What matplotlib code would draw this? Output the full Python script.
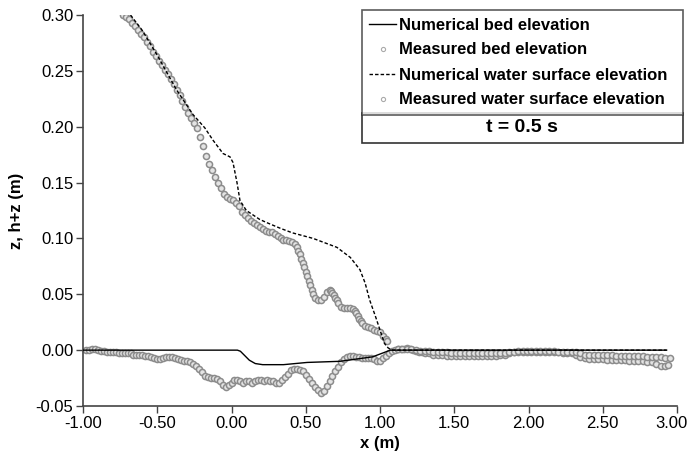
import matplotlib
matplotlib.use("Agg")
import matplotlib.pyplot as plt
from matplotlib.patches import Rectangle
from matplotlib.lines import Line2D

# measured water surface elevation (h+z)
ws_meas_x = [-0.73, -0.71, -0.69, -0.67, -0.65, -0.63, -0.61, -0.59, -0.57, -0.55,
             -0.53, -0.51, -0.49, -0.47, -0.45, -0.43, -0.41, -0.39, -0.37, -0.35,
             -0.33, -0.31, -0.29, -0.27, -0.25, -0.23, -0.21, -0.19, -0.17, -0.15,
             -0.13, -0.11, -0.09, -0.07, -0.05, -0.03, -0.01, 0.01, 0.03, 0.05,
             0.07, 0.09, 0.11, 0.13, 0.15, 0.17, 0.19, 0.21, 0.23, 0.25,
             0.27, 0.29, 0.31, 0.33, 0.35, 0.37, 0.39, 0.41, 0.43, 0.44,
             0.45, 0.46, 0.47, 0.48, 0.49, 0.50, 0.51, 0.52, 0.53, 0.54,
             0.55, 0.56, 0.58, 0.60, 0.62, 0.64, 0.66, 0.67, 0.68, 0.69,
             0.70, 0.71, 0.72, 0.74, 0.76, 0.78, 0.80, 0.82, 0.83, 0.84,
             0.85, 0.86, 0.87, 0.88, 0.90, 0.92, 0.94, 0.96, 0.98, 1.00,
             1.02, 1.04, 1.05,
             1.12, 1.15, 1.18, 1.21, 1.24, 1.27, 1.30, 1.33, 1.36, 1.39,
             1.42, 1.45, 1.48, 1.51, 1.54, 1.57, 1.60, 1.63, 1.66, 1.69,
             1.72, 1.75, 1.78, 1.81, 1.84, 1.87, 1.90, 1.93, 1.96, 1.99,
             2.02, 2.05, 2.08, 2.11, 2.14, 2.17, 2.20, 2.23, 2.26, 2.29,
             2.32, 2.35, 2.38, 2.41, 2.44, 2.47, 2.50, 2.53, 2.56, 2.59,
             2.62, 2.65, 2.68, 2.71, 2.74, 2.77, 2.80, 2.83, 2.86, 2.89,
             2.92, 2.95]
ws_meas_y = [0.300, 0.298, 0.296, 0.293, 0.290, 0.287, 0.283, 0.280, 0.276, 0.272,
             0.267, 0.263, 0.259, 0.255, 0.251, 0.247, 0.243, 0.238, 0.233, 0.228,
             0.223, 0.218, 0.212, 0.208, 0.203, 0.199, 0.191, 0.183, 0.174, 0.167,
             0.161, 0.155, 0.150, 0.145, 0.140, 0.137, 0.135, 0.134, 0.132, 0.129,
             0.124, 0.121, 0.118, 0.116, 0.114, 0.112, 0.110, 0.108, 0.107, 0.106,
             0.106, 0.104, 0.102, 0.100, 0.099, 0.099, 0.098, 0.097, 0.095, 0.092,
             0.089, 0.086, 0.082, 0.078, 0.074, 0.070, 0.066, 0.062, 0.058, 0.054,
             0.050, 0.047, 0.045, 0.045, 0.048, 0.052, 0.054, 0.053, 0.051, 0.049,
             0.047, 0.045, 0.042, 0.039, 0.038, 0.038, 0.038, 0.037, 0.035, 0.033,
             0.031, 0.028, 0.026, 0.024, 0.022, 0.021, 0.020, 0.018, 0.017, 0.016,
             0.013, 0.010, 0.008,
             0.001, 0.001, 0.001, 0.001, 0.000, -0.001, -0.001, -0.001, -0.002, -0.002,
             -0.002, -0.002, -0.003, -0.003, -0.003, -0.003, -0.003, -0.003, -0.003, -0.003,
             -0.003, -0.003, -0.003, -0.003, -0.003, -0.002, -0.002, -0.001, -0.001, -0.001,
             -0.001, -0.001, -0.001, -0.001, -0.001, -0.001, -0.002, -0.002, -0.002, -0.002,
             -0.002, -0.003, -0.004, -0.004, -0.004, -0.004, -0.004, -0.004, -0.004, -0.005,
             -0.005, -0.005, -0.005, -0.005, -0.005, -0.005, -0.006, -0.006, -0.006, -0.006,
             -0.007, -0.007]

# measured bed elevation (z)
bed_meas_x = [-0.98, -0.96, -0.94, -0.92, -0.90, -0.88, -0.86, -0.84, -0.82, -0.80,
              -0.78, -0.76, -0.74, -0.72, -0.70, -0.68, -0.66, -0.64, -0.62, -0.60,
              -0.58, -0.56, -0.54, -0.52, -0.50, -0.48, -0.46, -0.44, -0.42, -0.40,
              -0.38, -0.36, -0.34, -0.32, -0.30, -0.28, -0.26, -0.24, -0.22, -0.20,
              -0.18, -0.16, -0.14, -0.12, -0.10, -0.08, -0.06, -0.04, -0.02, 0.00,
              0.02, 0.04, 0.06, 0.08, 0.10, 0.12, 0.14, 0.16, 0.18, 0.20,
              0.22, 0.24, 0.26, 0.28, 0.30, 0.32, 0.34, 0.36, 0.38, 0.40,
              0.42, 0.44, 0.46, 0.48, 0.50, 0.52, 0.54, 0.56, 0.58, 0.60,
              0.62, 0.64, 0.66, 0.68, 0.70, 0.72, 0.74, 0.76, 0.78, 0.80,
              0.82, 0.84, 0.86, 0.88, 0.90, 0.92, 0.94, 0.96, 0.98, 1.00,
              1.02, 1.04, 1.06, 1.08, 1.10, 1.12, 1.14, 1.16, 1.18, 1.20,
              1.22, 1.24, 1.26, 1.28, 1.30, 1.33, 1.36, 1.39, 1.42, 1.45,
              1.48, 1.51, 1.54, 1.57, 1.60, 1.63, 1.66, 1.69, 1.72, 1.75,
              1.78, 1.81, 1.84, 1.87, 1.90, 1.93, 1.96, 1.99, 2.02, 2.05,
              2.08, 2.11, 2.14, 2.17, 2.20, 2.23, 2.26, 2.29, 2.32, 2.35,
              2.38, 2.41, 2.44, 2.47, 2.50, 2.53, 2.56, 2.59, 2.62, 2.65,
              2.68, 2.71, 2.74, 2.77, 2.80, 2.83, 2.86, 2.89, 2.92, 2.94]
bed_meas_y = [0.000, 0.000, 0.001, 0.001, 0.000, -0.001, -0.001, -0.002, -0.002, -0.002,
              -0.002, -0.003, -0.003, -0.003, -0.003, -0.003, -0.004, -0.004, -0.004, -0.004,
              -0.005, -0.005, -0.006, -0.007, -0.008, -0.008, -0.007, -0.006, -0.006, -0.006,
              -0.007, -0.008, -0.009, -0.010, -0.010, -0.011, -0.012, -0.014, -0.017, -0.020,
              -0.023, -0.024, -0.025, -0.025, -0.026, -0.028, -0.031, -0.033, -0.031, -0.029,
              -0.027, -0.027, -0.028, -0.029, -0.028, -0.028, -0.029, -0.028, -0.027, -0.027,
              -0.028, -0.027, -0.028, -0.028, -0.029, -0.029, -0.027, -0.024, -0.021, -0.018,
              -0.017, -0.017, -0.018, -0.019, -0.022, -0.026, -0.029, -0.033, -0.036, -0.038,
              -0.037, -0.032, -0.028, -0.023, -0.019, -0.015, -0.011, -0.008, -0.006, -0.005,
              -0.005, -0.006, -0.006, -0.007, -0.007, -0.007, -0.007, -0.008, -0.010, -0.010,
              -0.007, -0.005, -0.003, -0.001, 0.000, 0.001, 0.001, 0.001, 0.002, 0.001,
              0.000, -0.001, -0.002, -0.002, -0.003, -0.003, -0.004, -0.004, -0.004, -0.005,
              -0.005, -0.005, -0.005, -0.005, -0.005, -0.005, -0.005, -0.005, -0.005, -0.005,
              -0.005, -0.004, -0.004, -0.003, -0.002, -0.002, -0.002, -0.002, -0.002, -0.002,
              -0.002, -0.002, -0.002, -0.002, -0.002, -0.003, -0.003, -0.003, -0.004, -0.006,
              -0.007, -0.008, -0.008, -0.008, -0.008, -0.009, -0.009, -0.009, -0.009, -0.009,
              -0.010, -0.010, -0.010, -0.010, -0.011, -0.011, -0.012, -0.014, -0.014, -0.013]

# numerical results
bed_num_x = [-1.00, 0.04, 0.06, 0.09, 0.12, 0.16, 0.21, 0.35, 0.51, 0.73, 0.95, 1.07, 2.93]
bed_num_y = [0.000, 0.000, -0.001, -0.005, -0.009, -0.012, -0.013, -0.013, -0.011, -0.010, -0.006, 0.000, 0.000]

ws_num_x = [-0.68, -0.60, -0.50, -0.45, -0.37, -0.26, -0.18, -0.125, -0.057, -0.01,
            0.01, 0.037, 0.057, 0.10, 0.19, 0.24, 0.33, 0.41, 0.55, 0.71,
            0.80, 0.865, 0.90, 0.93, 0.97, 1.00, 1.03, 1.055, 1.08, 2.93]
ws_num_y = [0.300, 0.286, 0.264, 0.252, 0.233, 0.211, 0.199, 0.188, 0.176, 0.173,
            0.168, 0.150, 0.134, 0.125, 0.117, 0.114, 0.109, 0.105, 0.100, 0.092,
            0.083, 0.072, 0.060, 0.045, 0.030, 0.018, 0.006, 0.002, 0.000, 0.000]

xticks = [-1.0, -0.5, 0.0, 0.5, 1.0, 1.5, 2.0, 2.5, 3.0]
yticks = [-0.05, 0.0, 0.05, 0.10, 0.15, 0.20, 0.25, 0.30]

plt.rcParams['font.family'] = ['Liberation Sans', 'DejaVu Sans']
gray = '#8c8c8c'

fig = plt.figure(figsize=(6.89, 4.69), dpi=100)
ax = fig.add_axes([83/689, 1-406/469, (677-83)/689, (406-15)/469])

ax.plot(bed_meas_x, bed_meas_y, 'o', mfc='#e4e4e4', mec=gray, ms=4.4, mew=1.1, zorder=2)
ax.plot(ws_meas_x, ws_meas_y, 'o', mfc='#e4e4e4', mec=gray, ms=4.4, mew=1.1, zorder=2)
ax.plot(bed_num_x, bed_num_y, '-', color='black', lw=1.0, zorder=3)
ax.plot(ws_num_x, ws_num_y, '--', color='black', lw=1.0, dashes=(2.5, 1.5), zorder=3)

ax.set_xlim(-1.0, 3.0)
ax.set_ylim(-0.05, 0.30)
ax.set_xticks(xticks)
ax.set_yticks(yticks)
# the last x label sits at the right edge of the picture; draw it a bit further in
xlabels = ['%.2f' % v for v in xticks]
ax.set_xticklabels(xlabels[:-1] + [''], fontsize=12)
ax.annotate(xlabels[-1], xy=(xticks[-1], 0), xycoords=('data', 'axes fraction'),
            xytext=(-4, -7.2), textcoords='offset points', ha='center', va='top',
            fontsize=12, annotation_clip=False)
ax.set_yticklabels(['%.2f' % v for v in yticks], fontsize=12)
ax.spines['top'].set_visible(False)
ax.spines['right'].set_visible(False)
for s in ['left', 'bottom']:
    ax.spines[s].set_color('#444444')
    ax.spines[s].set_linewidth(1.2)
ax.tick_params(direction='out', length=5, width=1.0, color='#444444', pad=2)
ax.set_xlabel('x (m)', fontsize=12, fontweight='bold', labelpad=4)
ax.set_ylabel('z, h+z (m)', fontsize=12, fontweight='bold', labelpad=8)

handles = [
    Line2D([], [], color='black', lw=1.0),
    Line2D([], [], ls='none', marker='o', mfc='white', mec='#aaaaaa', ms=3.0, mew=0.8),
    Line2D([], [], color='black', lw=1.0, ls='--', dashes=(2.5, 1.5)),
    Line2D([], [], ls='none', marker='o', mfc='white', mec='#aaaaaa', ms=3.0, mew=0.8),
]
labels = ['Numerical bed elevation', 'Measured bed elevation',
          'Numerical water surface elevation', 'Measured water surface elevation']
W, H = 689.0, 469.0
leg = fig.legend(handles, labels, loc='upper left',
                 bbox_to_anchor=(362/W, 1-10/H, (683-362)/W, 0.0), mode='expand',
                 prop={'weight': 'bold', 'size': 12}, frameon=True, fancybox=False,
                 edgecolor='#333333', handlelength=1.6, handletextpad=0.2,
                 labelspacing=0.6, borderpad=0.45, borderaxespad=0.0)
leg.get_frame().set_linewidth(1.2)

fig.patches.append(Rectangle((362/W, 1-143/H), (683-362)/W, 30/H, transform=fig.transFigure,
                             fill=False, edgecolor='#333333', lw=1.2))
fig.text(522/W, 1-128/H, 't = 0.5 s', ha='center', va='center', fontsize=14, fontweight='bold')

fig.savefig('out.png', dpi=100)
